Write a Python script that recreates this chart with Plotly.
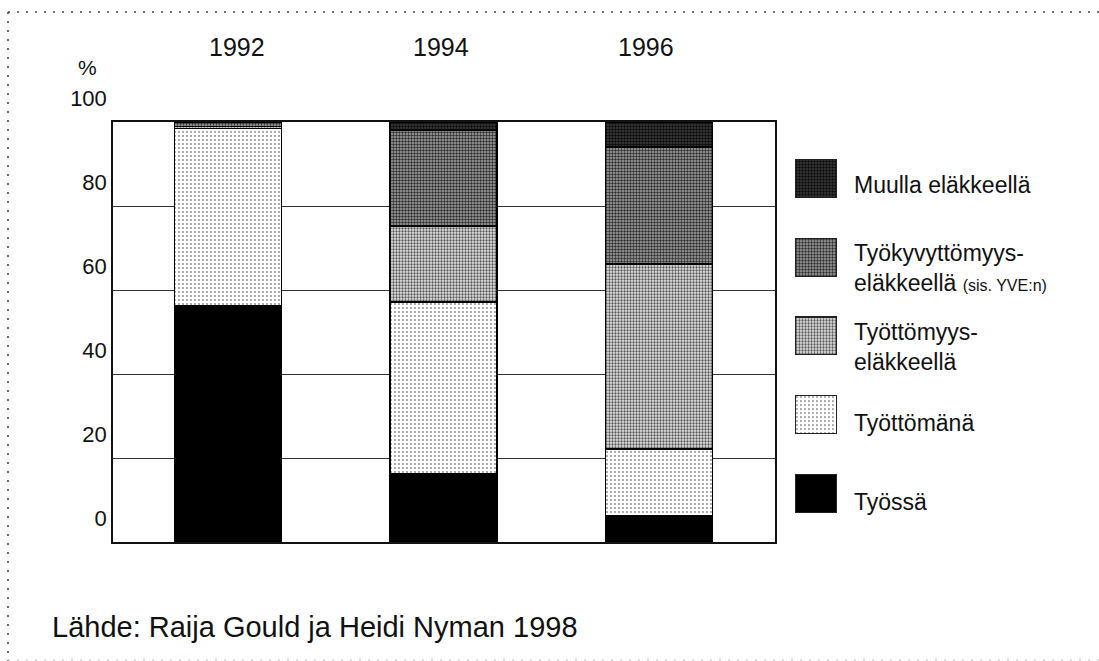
import plotly.graph_objects as go

years = ["1992", "1994", "1996"]
series_names = ["Työssä", "Työttömänä", "Työttömyyseläkkeellä",
                "Työkyvyttömyyseläkkeellä", "Muulla eläkkeellä"]
tyossa = [56.2, 16.2, 6.2]
tyottomana = [42.2, 40.9, 15.9]
tyottomyyselake = [0.5, 18.1, 44.1]
tyokyvyttomyyselake = [1.1, 22.9, 27.8]
muulla_elakkeella = [0.0, 1.9, 6.0]
y_ticks = [0, 20, 40, 60, 80, 100]
legend_labels = ["Muulla eläkkeellä",
                 "Työkyvyttömyys-<br>eläkkeellä <span style='font-size:16px'>(sis. YVE:n)</span>",
                 "Työttömyys-<br>eläkkeellä",
                 "Työttömänä",
                 "Työssä"]
source_text = "Lähde: Raija Gould ja Heidi Nyman 1998"

W, H = 1099, 661
ML, MR, MT, MB = 113, 10, 122, 119
PW = W - ML - MR
PH = H - MT - MB
FONT = "Liberation Sans, Arial, sans-serif"


def px(x):
    return (x - ML) / PW


def py(y):
    return (H - MB - y) / PH


styles = {
    "Työssä": dict(color="#000000"),
    "Työttömänä": dict(color="white", pattern=dict(shape=".", bgcolor="#ffffff", fgcolor="#8a8a8a",
                                                  size=4, solidity=0.18, fillmode="replace")),
    "Työttömyyseläkkeellä": dict(color="white", pattern=dict(shape=".", bgcolor="#e4e4e4", fgcolor="#555555",
                                                            size=3, solidity=0.45, fillmode="replace")),
    "Työkyvyttömyyseläkkeellä": dict(color="white", pattern=dict(shape=".", bgcolor="#a8a8a8", fgcolor="#2a2a2a",
                                                                size=3, solidity=0.5, fillmode="replace")),
    "Muulla eläkkeellä": dict(color="white", pattern=dict(shape=".", bgcolor="#444444", fgcolor="#0a0a0a",
                                                         size=3, solidity=0.6, fillmode="replace")),
}

values = [tyossa, tyottomana, tyottomyyselake, tyokyvyttomyyselake, muulla_elakkeella]

fig = go.Figure()
for name, vals in zip(series_names, values):
    fig.add_trace(go.Bar(
        x=years, y=vals, name=name, width=0.497,
        marker=dict(**styles[name], line=dict(color="#000000", width=1.5)),
        showlegend=False, xaxis="x", yaxis="y",
    ))

# legend swatches on an auxiliary axis pair
legend_order = series_names[::-1]
for name in legend_order:
    fig.add_trace(go.Bar(
        y=[name], x=[1], orientation="h", width=0.48,
        marker=dict(**styles[name], line=dict(color="#222222", width=1.2)),
        showlegend=False, xaxis="x2", yaxis="y2", hoverinfo="skip",
    ))

fig.update_layout(
    width=W, height=H,
    margin=dict(l=ML, r=MR, t=MT, b=MB),
    paper_bgcolor="white", plot_bgcolor="white",
    barmode="stack", bargap=0.5,
    font=dict(family=FONT, color="#111111"),
    xaxis=dict(domain=[0, 662 / PW], range=[-0.534, 2.539], type="category",
               showticklabels=False, ticks="", showgrid=False, zeroline=False,
               showline=True, mirror=True, linecolor="#111111", linewidth=1.5),
    yaxis=dict(range=[0, 100], tickvals=y_ticks, ticktext=[str(v) for v in y_ticks],
               tickfont=dict(size=22, family=FONT, color="#111111"),
               ticks="", ticklabelstandoff=0, ticklabelshift=-24,
               showgrid=True, gridcolor="#333333", gridwidth=1, zeroline=False,
               showline=True, mirror=True, linecolor="#111111", linewidth=1.5),
    xaxis2=dict(domain=[px(795), px(837)], range=[0, 1], anchor="y2",
                visible=False),
    yaxis2=dict(domain=[0.0217, 0.9593], range=[4.5, -0.5], type="category",
                categoryarray=legend_order, categoryorder="array", anchor="x2",
                visible=False),
)

ann = []
year_shift = [9, -2, -13]
for i, (yr, s) in enumerate(zip(years, year_shift)):
    ann.append(dict(x=i, xref="x", y=py(47), yref="paper", text=yr, showarrow=False,
                    xshift=s, font=dict(size=25, family=FONT, color="#111111"),
                    xanchor="center", yanchor="middle"))
ann.append(dict(x=px(87), y=py(67), xref="paper", yref="paper", text="%", showarrow=False,
                font=dict(size=21, family=FONT, color="#111111"), xanchor="center", yanchor="middle"))
legend_y = [185, 267.5, 347, 423, 502]
for lab, ly in zip(legend_labels, legend_y):
    ann.append(dict(x=px(852), y=py(ly), xref="paper", yref="paper", text=lab, showarrow=False,
                    align="left", xanchor="left", yanchor="middle",
                    font=dict(size=23, family=FONT, color="#111111")))
ann.append(dict(x=px(50), y=py(627), xref="paper", yref="paper", text=source_text, showarrow=False,
                xanchor="left", yanchor="middle", font=dict(size=29, family=FONT, color="#111111")))
fig.update_layout(annotations=ann)

# dotted frame (top, left, faint bottom)
dot = dict(color="#444444", width=1.6, dash="2px,7px")
fig.add_shape(type="line", xref="paper", yref="paper", x0=px(8), x1=px(1099), y0=py(12), y1=py(12),
              line=dot, layer="below")
fig.add_shape(type="line", xref="paper", yref="paper", x0=px(8), x1=px(8), y0=py(12), y1=py(661),
              line=dot, layer="below")
fig.add_shape(type="line", xref="paper", yref="paper", x0=px(8), x1=px(1099), y0=py(660), y1=py(660),
              line=dict(color="#bbbbbb", width=1, dash="2px,7px"), layer="below")

fig.write_html("out.html", post_script="document.body.style.margin='0';",
               config={"displayModeBar": False})
